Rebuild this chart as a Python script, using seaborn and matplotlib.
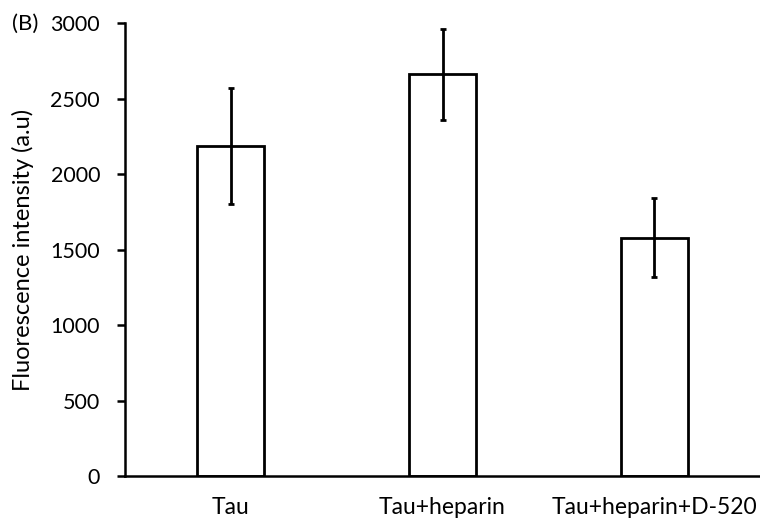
import matplotlib
matplotlib.use("Agg")
import matplotlib.pyplot as plt
import seaborn as sns
import pandas as pd

# values
groups = ["Tau", "Tau+heparin", "Tau+heparin+D-520"]
intensity = [2185, 2662, 1580]
errors = [385, 300, 262]
y_ticks = [0, 500, 1000, 1500, 2000, 2500, 3000]

sns.set_theme(style="white")
plt.rcParams["font.family"] = ["Lato", "DejaVu Sans"]

df = pd.DataFrame({"group": groups, "intensity": intensity})

fig = plt.figure(figsize=(7.6, 5.22), dpi=100)
ax = fig.add_axes([0.1645, 0.0875, 0.8355, 0.868])

sns.barplot(data=df, x="group", y="intensity", order=groups, width=0.317,
            color="white", edgecolor="black", linewidth=2, errorbar=None, ax=ax)
ax.errorbar(range(len(groups)), intensity, yerr=errors, fmt="none",
            ecolor="black", elinewidth=2, capsize=2, capthick=2)

ax.set_xlim(-0.5, 2.5)
ax.set_ylim(0, 3000)
ax.set_yticks(y_ticks)
ax.set_xlabel("")
ax.set_ylabel("Fluorescence intensity (a.u)", fontsize=17, labelpad=12)

for s in ["top", "right"]:
    ax.spines[s].set_visible(False)
for s in ["left", "bottom"]:
    ax.spines[s].set_color("black")
    ax.spines[s].set_linewidth(1.8)

ax.tick_params(axis="y", direction="out", length=6, width=1.8, color="black",
               labelsize=15.5, pad=12, left=True)
ax.tick_params(axis="x", length=0, labelsize=16.5, pad=15)
ax.yaxis.label.set_color("black")
for t in ax.get_xticklabels() + ax.get_yticklabels():
    t.set_color("black")

fig.text(0.016, 0.955, "(B)", fontsize=16, va="center", ha="left", color="black")

fig.savefig("out.png", dpi=100)
